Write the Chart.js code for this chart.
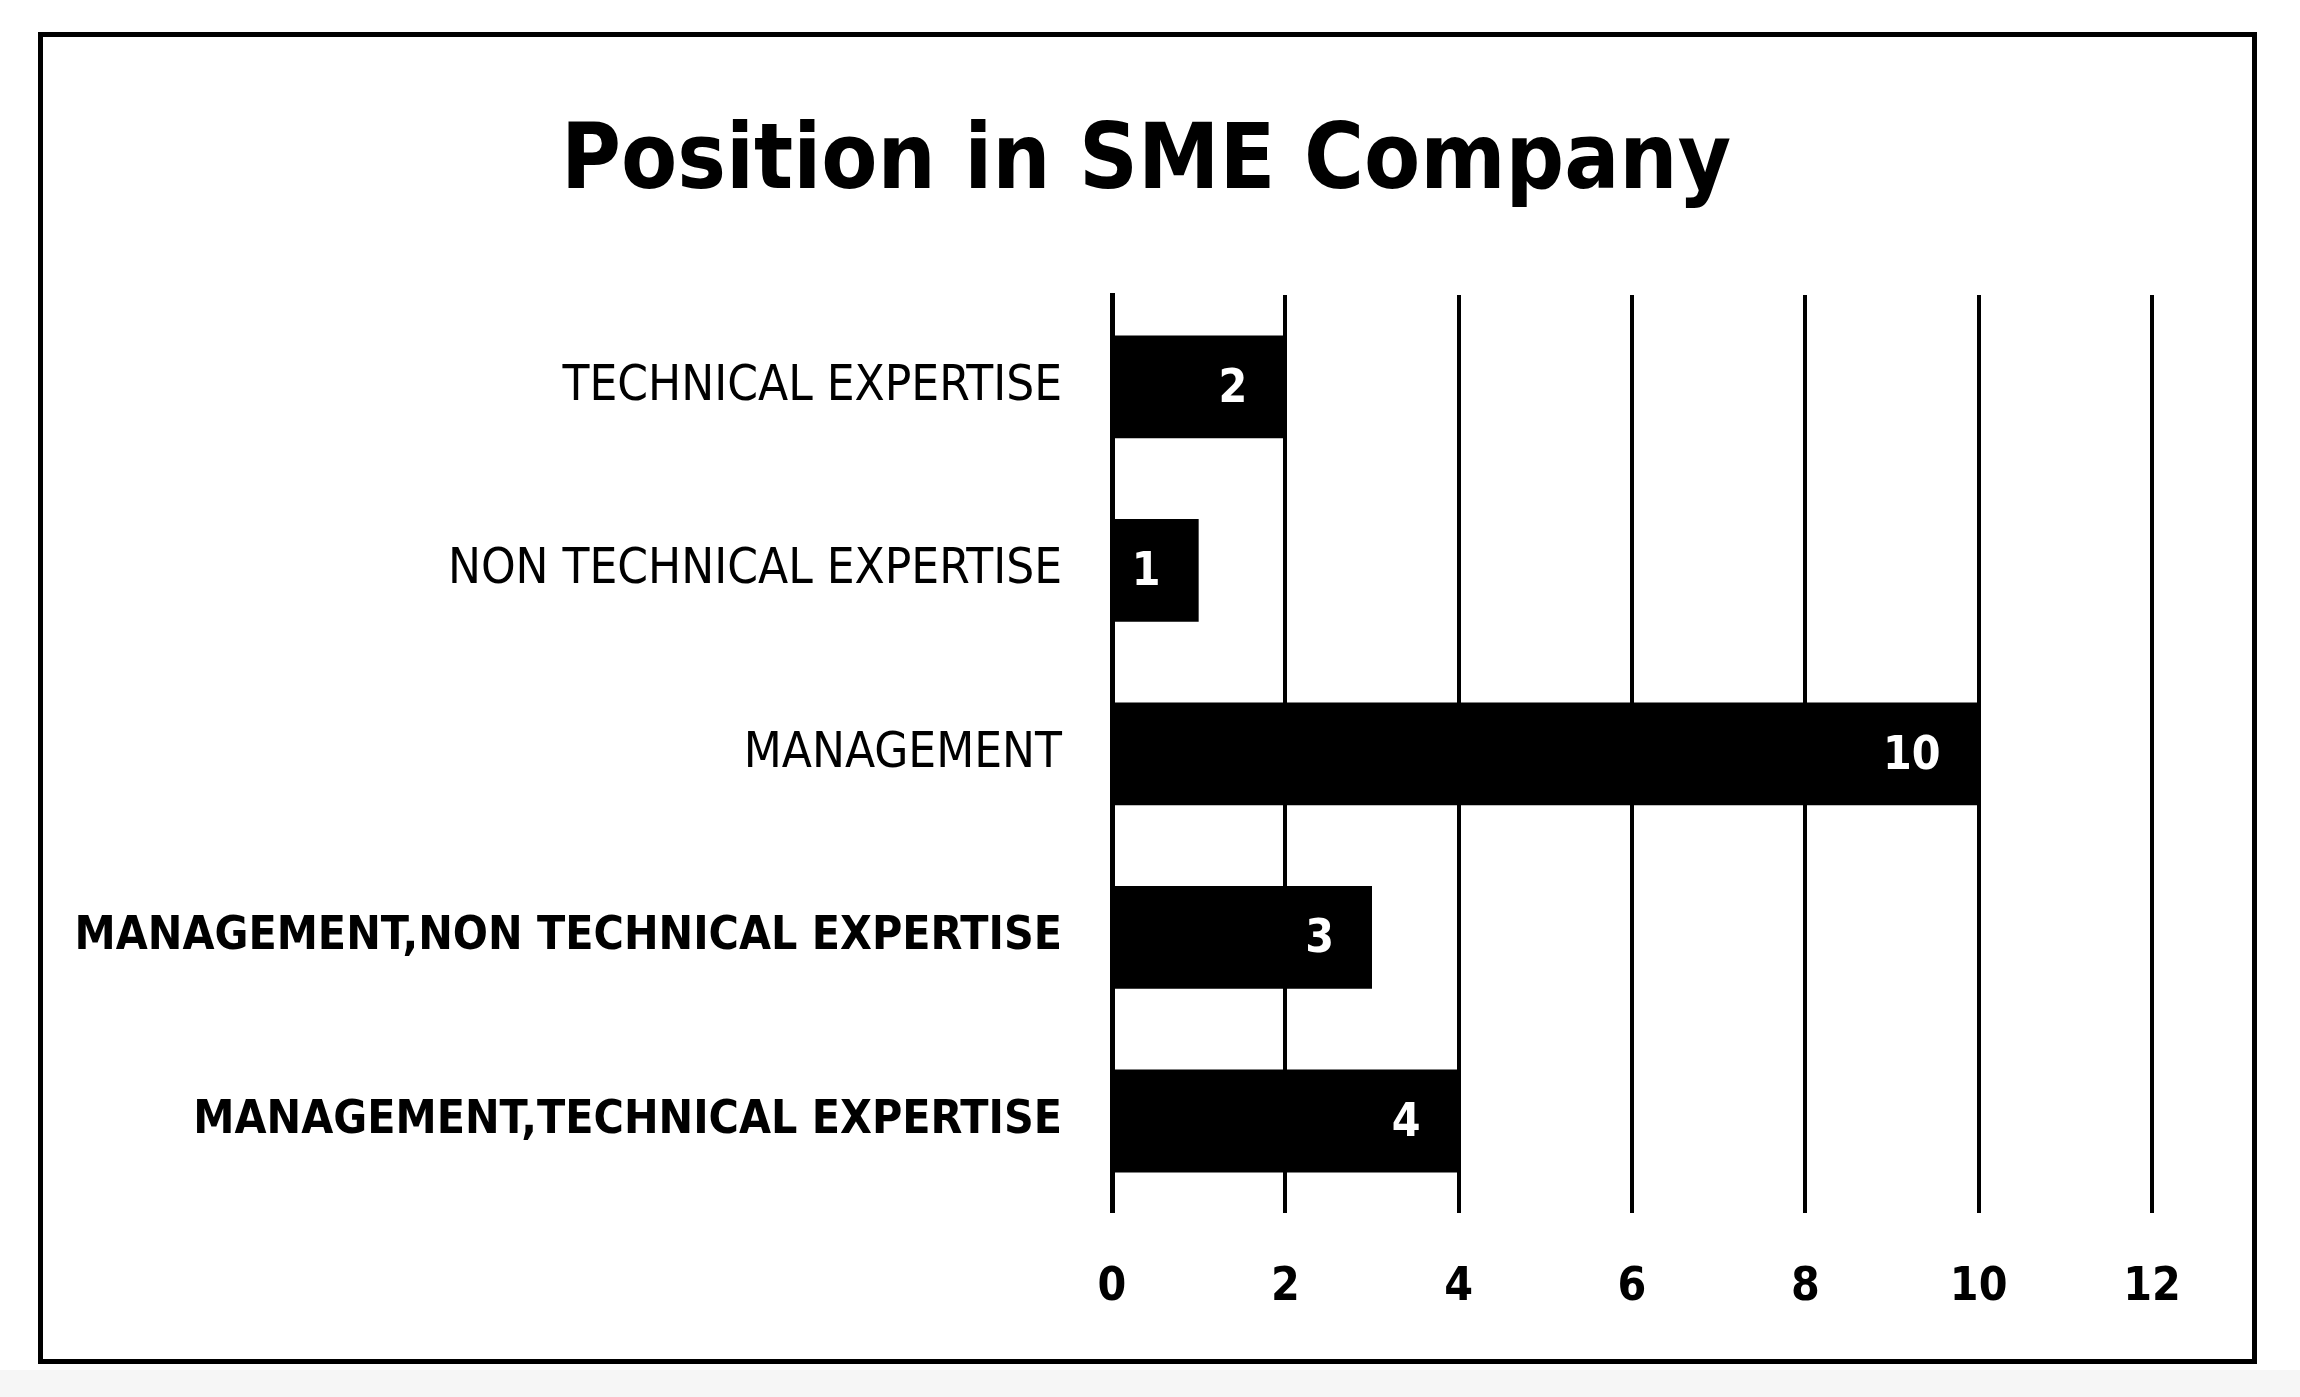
<!DOCTYPE html>
<html>
<head>
<meta charset="utf-8">
<title>Position in SME Company</title>
<script src="https://cdn.jsdelivr.net/npm/chart.js@4.4.0/dist/chart.umd.min.js"></script>
<style>
  html, body {
    margin: 0;
    padding: 0;
    background: #ffffff;
  }
  #wrap {
    position: relative;
    width: 2300px;
    height: 1397px;
    overflow: hidden;
  }
  #bottom-strip {
    position: absolute;
    left: 0;
    top: 1370px;
    width: 2300px;
    height: 27px;
    background: #f6f6f6;
  }
  #frame {
    position: absolute;
    left: 38px;
    top: 32px;
    width: 2209px;
    height: 1322px;
    border: 5px solid #000;
    pointer-events: none;
  }
  #chart {
    position: absolute;
    left: 0;
    top: 0;
  }
</style>
</head>
<body>
<div id="wrap">
  <div id="bottom-strip"></div>
  <canvas id="chart" width="2300" height="1397"></canvas>
  <div id="frame"></div>
</div>
<script>
const chartTitle = "Position in SME Company";
const categories = [
  "TECHNICAL EXPERTISE",
  "NON TECHNICAL EXPERTISE",
  "MANAGEMENT",
  "MANAGEMENT,NON TECHNICAL EXPERTISE",
  "MANAGEMENT,TECHNICAL EXPERTISE",
];
const counts = [2, 1, 10, 3, 4];
const xTicks = [0, 2, 4, 6, 8, 10, 12];

const FONT = "'Liberation Sans Narrow', 'Arial Narrow', 'DejaVu Sans Condensed', sans-serif";

// title centred on the whole page, not on the padded layout box
const pageTitle = {
  id: "pageTitle",
  afterDraw(chart) {
    const ctx = chart.ctx;
    ctx.save();
    ctx.font = "bold 91px " + FONT;
    ctx.fillStyle = "#000000";
    ctx.textAlign = "center";
    ctx.textBaseline = "middle";
    ctx.fillText(chartTitle, chart.width / 2 - 4, 164);
    ctx.restore();
  },
};

// white value labels just inside the end of each bar
const barLabels = {
  id: "barLabels",
  afterDatasetsDraw(chart) {
    const ctx = chart.ctx;
    const meta = chart.getDatasetMeta(0);
    ctx.save();
    ctx.font = "bold 46px " + FONT;
    ctx.fillStyle = "#ffffff";
    ctx.textAlign = "right";
    ctx.textBaseline = "middle";
    meta.data.forEach((bar, i) => {
      ctx.fillText(String(counts[i]), bar.x - 38, bar.y + 3);
    });
    ctx.restore();
  },
};

document.addEventListener("DOMContentLoaded", function () {
  const ctx = document.getElementById("chart").getContext("2d");
  new Chart(ctx, {
    type: "bar",
    data: {
      labels: categories,
      datasets: [
        {
          data: counts,
          backgroundColor: "#000000",
          borderWidth: 0,
          categoryPercentage: 1.0,
          barPercentage: 0.56,
        },
      ],
    },
    plugins: [barLabels, pageTitle],
    options: {
      indexAxis: "y",
      responsive: false,
      devicePixelRatio: 1,
      animation: false,
      layout: {
        padding: { left: 40, right: 148, top: 295, bottom: 33 },
      },
      plugins: {
        legend: { display: false },
        tooltip: { enabled: false },
        title: { display: false },
      },
      scales: {
        x: {
          min: 0,
          max: 12,
          afterBuildTicks(scale) {
            scale.ticks = xTicks.map((v) => ({ value: v }));
          },
          grid: {
            display: true,
            color: "#000000",
            lineWidth: 4,
            drawTicks: false,
          },
          border: { display: false },
          ticks: {
            color: "#000000",
            padding: 48,
            font: { family: FONT, size: 46, weight: "bold", lineHeight: 1.2 },
          },
        },
        y: {
          grid: { display: false, drawTicks: false },
          border: { display: true, color: "#000000", width: 5 },
          afterFit(scale) {
            scale.width = 1072;
          },
          ticks: {
            color: "#000000",
            padding: 50,
            font: (c) => ({
              family: FONT,
              size: c.index >= 3 ? 46 : 49,
              weight: c.index >= 3 ? "bold" : "normal",
              lineHeight: 1.2,
            }),
          },
        },
      },
    },
  });
});
</script>
</body>
</html>
